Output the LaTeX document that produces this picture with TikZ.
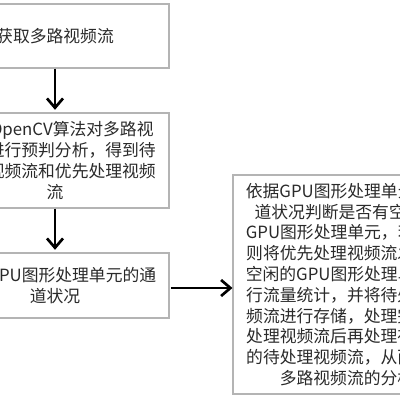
\documentclass[tikz,border=0pt]{standalone}
\usepackage{fontspec}
\usetikzlibrary{arrows.meta, positioning}
\newfontfamily\cjk{Noto Sans CJK SC}
\definecolor{cborder}{HTML}{B4B4B4}
\definecolor{ctext}{HTML}{2A2A2A}

\begin{document}
\begin{tikzpicture}[x=0.75pt, y=-0.75pt,
  stepbox/.style={draw=cborder, line width=0.8pt, fill=white, text=ctext, align=center,
    font=\cjk\fontsize{12.6}{15.6}\selectfont, minimum width=171pt, inner sep=0pt},
  flow/.style={-{Straight Barb[length=7pt, width=12pt, line width=2pt]}, line width=2.2pt, black}]
  \useasboundingbox (0,0) rectangle (400,400);
  \clip (0,0) rectangle (400,400);

  % Left column, centred at x=55
  \node[stepbox, minimum height=48pt] (getstream) at (55,36) {获取多路视频流};
  \node[stepbox, minimum height=71.25pt] (predict) at (55,160.5)
    {利用OpenCV算法对多路视\\频流进行预判分析，得到待\\处理视频流和优先处理视频\\流};
  \node[stepbox, minimum height=48.75pt] (channel) at (55,285.5)
    {获取GPU图形处理单元的通\\道状况};

  % Right box
  \node[stepbox, minimum height=164.25pt] (dispatch) at (347,284.5)
    {依据GPU图形处理单元的通\\道状况判断是否有空闲的\\GPU图形处理单元，若有，\\则将优先处理视频流发送至\\空闲的GPU图形处理单元进\\行流量统计，并将待处理视\\频流进行存储，处理完优先\\处理视频流后再处理存储中\\的待处理视频流，从而完成\\多路视频流的分析};

  % Arrows
  \draw[flow, shorten >=2pt] (getstream) -- (predict);
  \draw[flow, shorten >=2pt] (predict) -- (channel);
  \draw[flow, shorten <=1pt] (channel.east |- 0,288) -- (dispatch.west |- 0,288);
\end{tikzpicture}
\end{document}
